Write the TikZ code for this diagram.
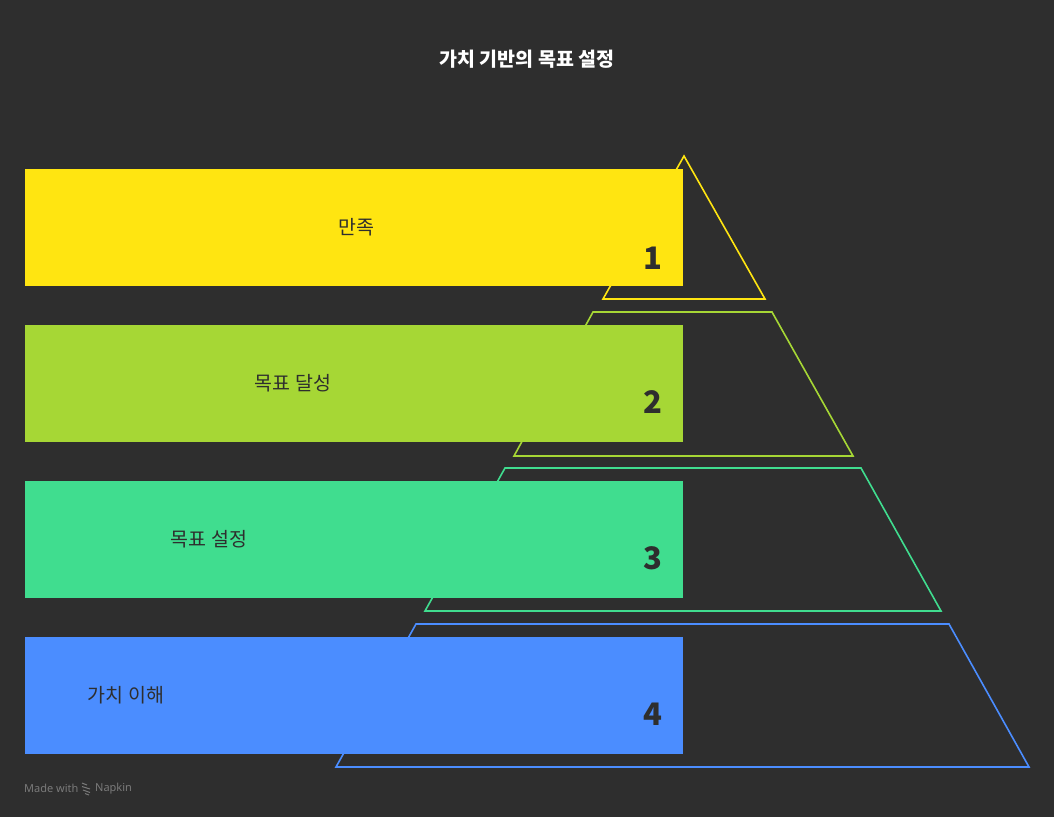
\documentclass[tikz,border=0pt]{standalone}
\usepackage{fontspec}
\setmainfont{Noto Sans CJK KR}
\newfontfamily\numfont{Noto Sans}
\definecolor{bg}{HTML}{2E2E2E}
\definecolor{tierA}{HTML}{FFE511}
\definecolor{tierB}{HTML}{A6D735}
\definecolor{tierC}{HTML}{40DD8F}
\definecolor{tierD}{HTML}{4B8DFF}
\definecolor{ink}{HTML}{2E2E2E}
\definecolor{footgray}{HTML}{7A7A7A}
\tikzset{
  tierbox/.style={anchor=north west,inner sep=0pt,minimum width=658pt,minimum height=117pt},
  tierlbl/.style={text=ink,font=\fontsize{19.5}{22}\selectfont},
  tiernum/.style={text=ink,font=\bfseries\fontsize{31}{34}\selectfont},
  outline/.style={line width=1.6pt,line join=miter}
}
\begin{document}
\begin{tikzpicture}[x=1pt,y=-1pt]
    \fill[bg] (0,0) rectangle (1054,817);
    \useasboundingbox (0,0) rectangle (1054,817);
    % title
    \node[text=white,font=\bfseries\fontsize{19.5}{23}\selectfont] (title) at (527,59) {가치 기반의 목표 설정};
    % pyramid outlines
    \draw[outline,tierA] (684,156) -- (765,299) -- (603,299) -- cycle;
    \draw[outline,tierB] (593,312) -- (772,312) -- (853,456) -- (514,456) -- cycle;
    \draw[outline,tierC] (505,468) -- (861,468) -- (941,611) -- (425,611) -- cycle;
    \draw[outline,tierD] (416,624) -- (949,624) -- (1029,767) -- (336,767) -- cycle;
    % tiers
    \node[tierbox,fill=tierA] (boxA) at (25,169) {};
    \node[tierbox,fill=tierB] (boxB) at (25,325) {};
    \node[tierbox,fill=tierC] (boxC) at (25,481) {};
    \node[tierbox,fill=tierD] (boxD) at (25,637) {};
    \draw (356,227) node[tierlbl] (lblA) {만족};
    \draw (293,383) node[tierlbl] (lblB) {목표 달성};
    \draw (209,539) node[tierlbl] (lblC) {목표 설정};
    \draw (126,695) node[tierlbl] (lblD) {가치 이해};
    \draw (653,258) node[tiernum] (numA) {1};
    \draw (653,402) node[tiernum] (numB) {2};
    \draw (653,558) node[tiernum] (numC) {3};
    \draw (653,714) node[tiernum] (numD) {4};
    % footer
    \node[anchor=west,text=footgray,font=\numfont\fontsize{11}{13}\selectfont,inner sep=0pt] (made) at (24,788.5) {Made with};
    \draw[footgray,line width=1pt] (82,783) -- (87,785) (82,786.5) -- (90,789) (83,790) -- (90,792.5) (85,793.5) -- (89,795);
    \node[anchor=west,text=footgray,font=\numfont\fontsize{11}{13}\selectfont,inner sep=0pt] (napkin) at (95,788.5) {Napkin};
\end{tikzpicture}
\end{document}
